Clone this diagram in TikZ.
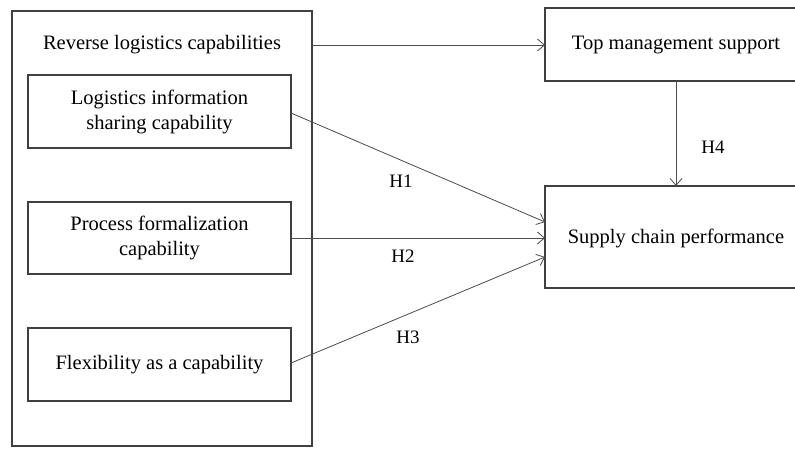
\documentclass[tikz,border=0pt]{standalone}
\usepackage{fontspec}
\setmainfont{Liberation Serif}
\usetikzlibrary{arrows.meta}
\begin{document}
\begin{tikzpicture}[x=1pt,y=-1pt,
  box/.style={draw=black!75, line width=1.4pt, inner sep=0pt},
  link/.style={draw=black!70, line width=0.8pt, -{Straight Barb[length=7pt,width=12pt,line width=0.8pt]}},
  lbl/.style={font=\fontsize{19}{22}\selectfont},
  txt/.style={font=\fontsize{20.5}{25}\selectfont, align=center}]
\clip (0,0) rectangle (795,448);
\fill[white] (0,0) rectangle (795,448);
% outer group box
\draw[box] (12,11) rectangle (312,446);
\coordinate (outerR) at (312,45);
\node[txt] (rlc) at (162,45) {Reverse logistics capabilities};
% inner capability boxes
\draw[box] (28,75) rectangle (291,148);
\node[txt] (lisc) at (159.5,111.5) {Logistics information\\sharing capability};
\coordinate (liscR) at (291,113);
\draw[box] (28,202) rectangle (291,274);
\node[txt] (pfc) at (159.5,238) {Process formalization\\capability};
\coordinate (pfcR) at (291,238);
\draw[box] (28,328) rectangle (291,401);
\node[txt] (fac) at (159.5,364.5) {Flexibility as a capability};
\coordinate (facR) at (291,363);
% outcome boxes
\draw[box] (545,8) rectangle (807,81);
\node[txt] (tms) at (676,45) {Top management support};
\coordinate (tmsL) at (545,45);
\coordinate (tmsB) at (676,81);
\draw[box] (545,186) rectangle (807,288);
\node[txt] (scp) at (676,238) {Supply chain performance};
\coordinate (scpT) at (676,186);
\coordinate (scpA) at (545,222);
\coordinate (scpB) at (545,238);
\coordinate (scpC) at (545,257);
% connectors
\draw[link] (outerR) -- (tmsL);
\draw[link] (tmsB) -- (scpT);
\draw[link] (liscR) -- (scpA);
\draw[link] (pfcR) -- (scpB);
\draw[link] (facR) -- (scpC);
% hypothesis labels
\node[lbl] (h1) at (401,181) {H1};
\node[lbl] (h2) at (403,256) {H2};
\node[lbl] (h3) at (408,337) {H3};
\node[lbl] (h4) at (713,147) {H4};
\end{tikzpicture}
\end{document}
